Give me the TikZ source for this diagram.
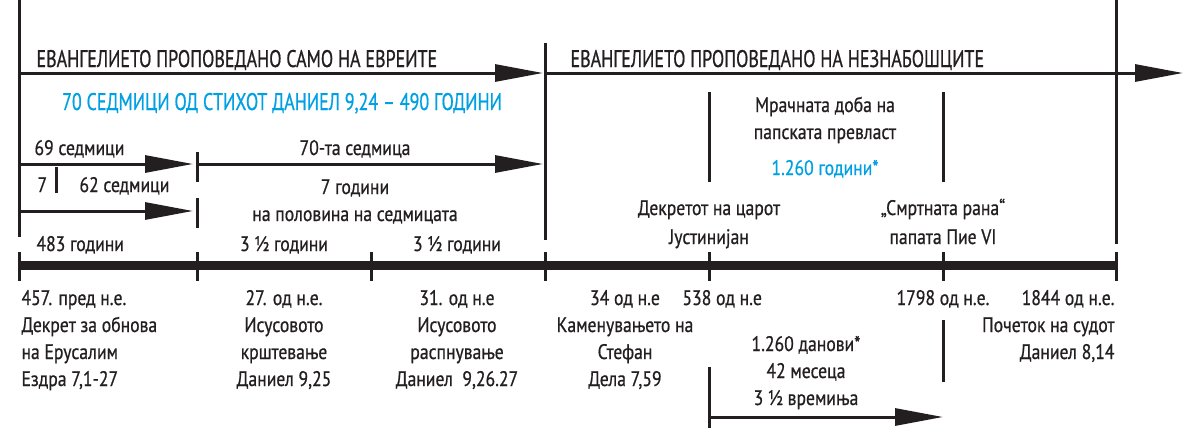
\documentclass[tikz,border=0pt]{standalone}
\usepackage{fontspec}
\setmainfont{PT Sans}[FakeStretch=0.84, FakeBold=0.7]
\newfontfamily\headfont{PT Sans}[FakeStretch=0.75, FakeBold=0.7]
\usetikzlibrary{positioning,arrows.meta}
\definecolor{inkblack}{HTML}{231F20}
\definecolor{prophecyblue}{HTML}{00A0E3}

\begin{document}
\begin{tikzpicture}[x=1pt, y=-1pt, line width=3pt, color=inkblack,
  every node/.style={align=center, inner sep=0pt, font=\fontsize{21}{27}\selectfont},
  heading/.style={font=\headfont\fontsize{24}{28}\selectfont},
  era/.style={-{Triangle[length=48pt, width=17pt]}},
  axis/.style={line width=9pt}]
\useasboundingbox (0,0) rectangle (1197,439);

% frame lines
\coordinate (topL) at (19,0);    \coordinate (botL) at (19,237);
\coordinate (topR) at (1116,0);  \coordinate (botR) at (1116,244);
\coordinate (topM) at (545,43);  \coordinate (botM) at (545,240);
\draw (topL) -- (botL);
\draw (topR) -- (botR);
\draw (topM) -- (botM);

% gospel arrows
\coordinate (jews) at (19,73);
\coordinate (jewsEnd) at (543,73);
\coordinate (gent) at (545,73);
\coordinate (gentEnd) at (1183,73);
\draw[era] (jews) -- (jewsEnd);
\draw[era] (gent) -- (gentEnd);
\node[heading, anchor=base west] (jewsLbl) at (35,67) {ЕВАНГЕЛИЕТО ПРОПОВЕДАНО САМО НА ЕВРЕИТЕ};
\node[heading, anchor=base west] (gentLbl) at (569,67) {ЕВАНГЕЛИЕТО ПРОПОВЕДАНО НА НЕЗНАБОШЦИТЕ};
\node[heading, anchor=base, text=prophecyblue] (seventy) at (282,110) {70 СЕДМИЦИ ОД СТИХОТ ДАНИЕЛ 9,24 – 490 ГОДИНИ};

% weeks
\coordinate (w0) at (19,164);   \coordinate (w69) at (193,164);
\coordinate (w70) at (197,164); \coordinate (w70End) at (543,164);
\coordinate (y0) at (19,211);   \coordinate (y483) at (193,211);
\draw[era] (w0) -- (w69);
\draw[era] (w70) -- (w70End);
\draw[era] (y0) -- (y483);
\draw (197,152) -- (197,182);
\draw (197,198) -- (197,228);
\draw (56,167) -- (56,193);
\node[anchor=base west] (sixtynine) at (33,155) {69 седмици};
\node[anchor=base west] (seven) at (36,192) {7};
\node[anchor=base west] (sixtytwo) at (78,192) {62 седмици};
\node[anchor=base] (lastweek) at (355,155) {70-та седмица};
\node[anchor=base] (sevenyrs) at (355,194) {7 години};
\node[anchor=base] (halfweek) at (355,221) {на половина на седмицата};
\node[anchor=base west] (yrs483) at (35,251) {483 години};
\node[anchor=base] (halfA) at (284,251) {3 ½ години};
\node[anchor=base] (halfB) at (457,251) {3 ½ години};

% papal period
\draw (709,92) -- (709,182);
\draw (943,92) -- (943,182);
\node[anchor=base] (dark) at (825,139) {Мрачната доба на\\папската превласт};
\node[anchor=base, text=prophecyblue] (yrs1260) at (825,175) {1.260 години*};
\node[anchor=base] (decree) at (709,244) {Декретот на царот\\[2pt]Јустинијан};
\node[anchor=base] (wound) at (943,244) {„Смртната рана“\\[2pt]папата Пие VI};

% timeline
\coordinate (t0) at (19,265);
\coordinate (t6) at (1116,265);
\draw[axis] (t0) -- (t6);
\foreach \x in {19,197,371,545,709,943,1116}
  \draw (\x,252) -- (\x,281);

% dates
\node[anchor=base west, align=left] (d457) at (20,386) {457. пред н.е.\\Декрет за обнова\\на Ерусалим\\Ездра 7,1-27};
\node[anchor=base] (d27) at (284,386) {27. од н.е.\\Исусовото\\крштевање\\Даниел 9,25};
\node[anchor=base] (d31) at (457,386) {31. од н.е\\Исусовото\\распнување\\Даниел~~9,26.27};
\node[anchor=base] (d34) at (625,386) {34 од н.е\\Каменувањето на\\Стефан\\Дела 7,59};
\node[anchor=base west] (d538) at (681,305) {538 од н.е};
\node[anchor=base] (d1798) at (943,305) {1798 од н.е.};
\node[anchor=base east, align=right] (d1844) at (1116,359) {1844 од н.е.\\Почеток на судот\\Даниел 8,14};

% 1260 days
\draw (943,320) -- (943,382);
\coordinate (daysStart) at (709,417);
\coordinate (daysEnd) at (943,417);
\draw (709,367) -- (709,428);
\draw[era] (daysStart) -- (daysEnd);
\node[anchor=base] (days) at (806,405) {1.260 данови*\\42 месеца\\3 ½ времиња};
\end{tikzpicture}
\end{document}
